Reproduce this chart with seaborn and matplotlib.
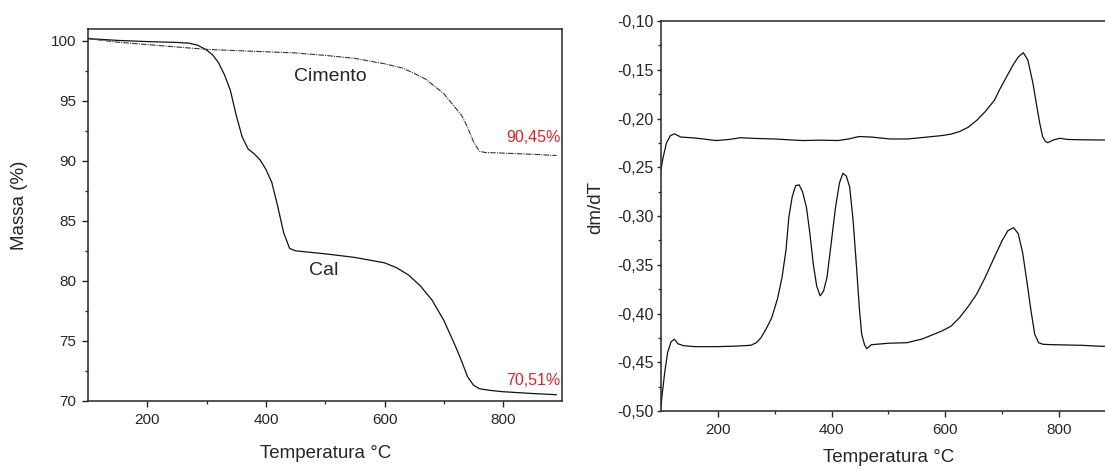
import matplotlib
matplotlib.use("Agg")
import matplotlib.pyplot as plt
import seaborn as sns
import pandas as pd
from matplotlib.ticker import MultipleLocator, FuncFormatter, FixedLocator

# ---------------- data ----------------
cal_tga_x = [100,150,200,250,270,285,300,310,320,330,340,350,360,370,380,390,400,410,420,430,440,450,
             500,550,600,620,640,660,680,700,720,730,740,750,760,780,800,850,890]
cal_tga_y = [100.2,100.05,99.95,99.88,99.82,99.65,99.25,98.85,98.2,97.2,95.9,93.8,92.0,91.0,90.6,90.1,
             89.3,88.2,86.2,84.0,82.7,82.5,82.25,81.95,81.5,81.1,80.5,79.6,78.4,76.7,74.5,73.3,72.0,
             71.3,71.0,70.85,70.75,70.6,70.5]

cim_tga_x = [100,150,200,250,300,350,400,450,500,550,600,630,650,670,690,700,710,720,730,740,750,760,
             770,800,850,890]
cim_tga_y = [100.2,99.9,99.7,99.5,99.3,99.2,99.1,99.0,98.8,98.55,98.1,97.75,97.3,96.8,96.0,95.6,95.0,
             94.4,93.8,92.8,91.6,90.8,90.7,90.65,90.55,90.45]

cim_dtg_x = [100,104,110,117,124,135,160,197,220,240,270,300,330,350,380,411,430,448,470,503,533,560,
             594,610,625,640,655,670,686,695,705,719,728,737,745,754,760,766,771,776,780,790,801,815,
             840,870,900]
cim_dtg_y = [-0.2535,-0.240,-0.225,-0.2175,-0.2157,-0.219,-0.220,-0.2226,-0.2215,-0.2197,-0.2205,
             -0.221,-0.222,-0.2226,-0.2222,-0.2226,-0.221,-0.2185,-0.219,-0.221,-0.221,-0.2195,-0.2175,
             -0.216,-0.2134,-0.209,-0.202,-0.193,-0.1815,-0.1708,-0.160,-0.1451,-0.137,-0.1325,-0.140,
             -0.1639,-0.185,-0.205,-0.2187,-0.2235,-0.2248,-0.222,-0.2203,-0.2215,-0.2218,-0.222,-0.222]

cal_dtg_x = [100,103,107,112,118,124,130,140,160,197,230,258,268,276,285,295,305,313,320,325,331,337,
             343,349,356,362,368,374,380,386,392,399,407,414,420,426,432,438,444,449,453,458,462,470,
             478,500,533,560,594,610,625,640,655,670,686,700,710,720,728,736,744,750,757,764,772,790,
             839,873,900]
cal_dtg_y = [-0.4967,-0.48,-0.46,-0.44,-0.429,-0.4264,-0.431,-0.433,-0.434,-0.434,-0.4335,-0.4326,
             -0.430,-0.4248,-0.416,-0.4042,-0.385,-0.3631,-0.335,-0.3014,-0.280,-0.2689,-0.268,-0.275,
             -0.2912,-0.318,-0.3494,-0.372,-0.3819,-0.377,-0.3631,-0.330,-0.2912,-0.266,-0.2562,-0.259,
             -0.2706,-0.305,-0.3528,-0.395,-0.4213,-0.432,-0.4361,-0.432,-0.4316,-0.4305,-0.4299,
             -0.426,-0.4179,-0.413,-0.4042,-0.393,-0.3802,-0.363,-0.3425,-0.325,-0.315,-0.312,-0.318,
             -0.338,-0.370,-0.395,-0.421,-0.430,-0.4316,-0.432,-0.4326,-0.4336,-0.4336]

final_labels = ["90,45%", "70,51%"]
curve_names = ["Cimento", "Cal"]

# ---------------- style ----------------
sns.set_style("ticks")
plt.rcParams['font.family'] = ['Liberation Sans', 'DejaVu Sans']
plt.rcParams['axes.linewidth'] = 1.1

fig = plt.figure(figsize=(11.05, 4.70), dpi=100)
axL = fig.add_axes([0.0796, 0.1474, 0.4294, 0.7909])
axR = fig.add_axes([0.5980, 0.1255, 0.4120, 0.8298])

df_cal = pd.DataFrame({"T": cal_tga_x, "m": cal_tga_y})
df_cim = pd.DataFrame({"T": cim_tga_x, "m": cim_tga_y})
sns.lineplot(data=df_cal, x="T", y="m", ax=axL, color="#111111", lw=0.9, estimator=None, sort=False)
sns.lineplot(data=df_cim, x="T", y="m", ax=axL, color="#333333", lw=0.8, estimator=None, sort=False,
             linestyle=(0, (5, 1, 1, 1)))

df_cd = pd.DataFrame({"T": cim_dtg_x, "d": cim_dtg_y})
df_ld = pd.DataFrame({"T": cal_dtg_x, "d": cal_dtg_y})
sns.lineplot(data=df_cd, x="T", y="d", ax=axR, color="#111111", lw=0.9, estimator=None, sort=False)
sns.lineplot(data=df_ld, x="T", y="d", ax=axR, color="#111111", lw=0.9, estimator=None, sort=False)

# ---------------- left axes ----------------
axL.set_xlim(100, 900)
axL.set_ylim(70, 101)
axL.xaxis.set_major_locator(FixedLocator([200, 400, 600, 800]))
axL.xaxis.set_minor_locator(FixedLocator([300, 500, 700]))
axL.yaxis.set_major_locator(MultipleLocator(5))
axL.yaxis.set_minor_locator(MultipleLocator(2.5))
axL.tick_params(which='major', direction='out', length=4.5, width=1.0, labelsize=11, pad=4)
axL.tick_params(which='minor', direction='out', length=2.5, width=0.9)
axL.set_xlabel("Temperatura °C", fontsize=13.5, va='center')
axL.set_ylabel("Massa (%)", fontsize=13.5, va='center')
axL.xaxis.set_label_coords(0.5, -0.141)
axL.yaxis.set_label_coords(-0.145, 0.527)

axL.text(509, 97.0, curve_names[0], fontsize=14, ha='center', va='center')
axL.text(497, 80.86, curve_names[1], fontsize=14, ha='center', va='center')
axL.text(897, 91.95, final_labels[0], fontsize=11.5, ha='right', va='center', color='#e0202a')
axL.text(897, 71.67, final_labels[1], fontsize=11.5, ha='right', va='center', color='#e0202a')

# ---------------- right axes ----------------
axR.set_xlim(100, 900)
axR.set_ylim(-0.50, -0.10)
axR.xaxis.set_major_locator(FixedLocator([200, 400, 600, 800]))
axR.xaxis.set_minor_locator(FixedLocator([300, 500, 700]))
axR.yaxis.set_major_locator(MultipleLocator(0.05))
axR.yaxis.set_minor_locator(MultipleLocator(0.025))
axR.yaxis.set_major_formatter(FuncFormatter(lambda v, p: f"{v:.2f}".replace('.', ',')))
axR.tick_params(axis='x', which='major', direction='out', length=4.5, width=1.0, labelsize=11, pad=4)
axR.tick_params(axis='y', which='major', direction='out', length=3, width=1.0, labelsize=11.5, pad=2)
axR.tick_params(which='minor', direction='out', length=2.0, width=0.9)
axR.set_xlabel("Temperatura °C", fontsize=13.5, va='center')
axR.set_ylabel("dm/dT", fontsize=13.5, va='center')
axR.xaxis.set_label_coords(0.5008, -0.12)
axR.yaxis.set_label_coords(-0.142, 0.523)

fig.savefig("out.png", dpi=100)
